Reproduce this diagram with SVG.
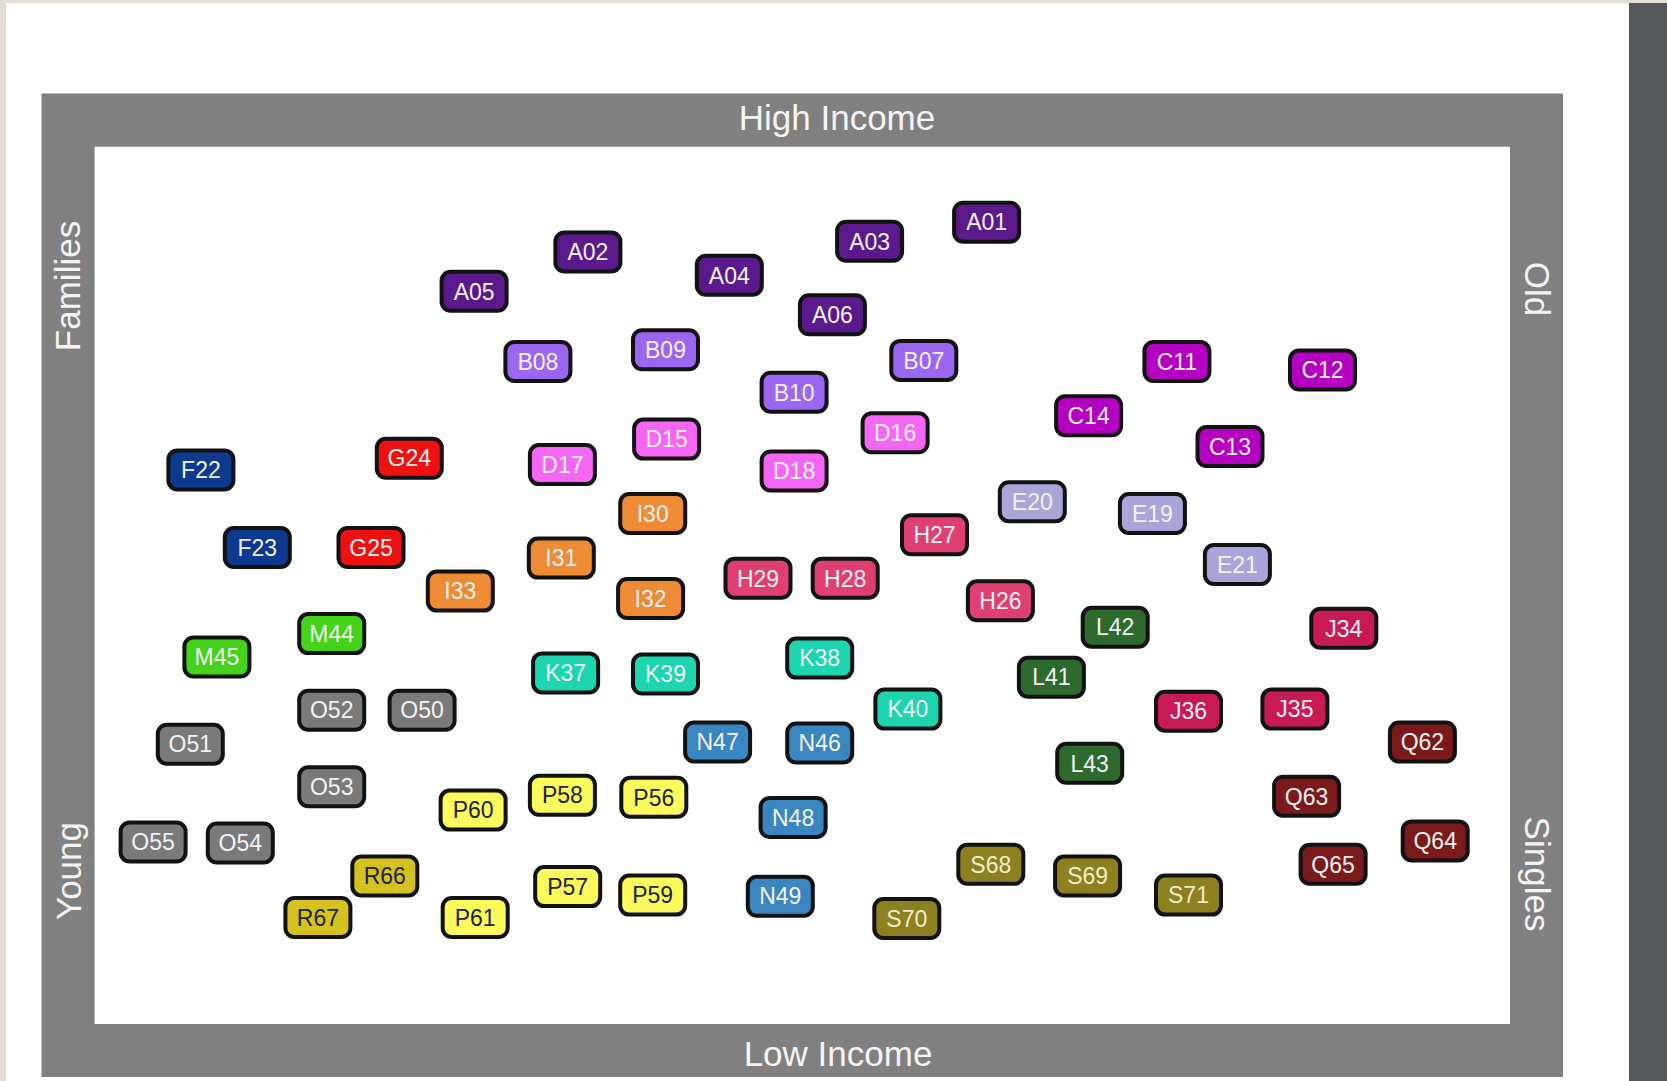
<svg xmlns="http://www.w3.org/2000/svg" width="1667" height="1081" viewBox="0 0 1667 1081">
<style>
.lbl{font-family:"Liberation Sans",Arial,sans-serif;font-size:35px;fill:#f4f4f4;text-anchor:middle}
.n text{font-family:"Liberation Sans",Arial,sans-serif;font-size:23px;fill:#f2f2f2;text-anchor:middle;stroke:none}
.a{fill:#5a1a8c}.b{fill:#9b66f0}.c{fill:#b400c0}.d{fill:#f566f5}
.e{fill:#a9a5d8}.f{fill:#0d3a8e}.g{fill:#ee1111}.h{fill:#e03f72}
.i{fill:#ee8b35}.j{fill:#c81a55}.k{fill:#1dd6b0}.l{fill:#2e6a2e}
.m{fill:#44d21a}.nn{fill:#3a86c0}.o{fill:#7a7a7a}.p{fill:#fbfb5e}
.q{fill:#7a1a1a}.r{fill:#d4c220}.s{fill:#8c8020}
.p text,.r text{fill:#222}
.s text{fill:#f3ecc8}
</style>
<defs>
<rect id="box" x="-32.5" y="-19.5" width="65" height="39" rx="9" stroke="#121212" stroke-width="4"/>
</defs>
<rect x="0" y="0" width="1667" height="1081" fill="#ffffff"/>
<rect x="0" y="0" width="1667" height="3" fill="#e4dfd6"/>
<rect x="0" y="0" width="6" height="1081" fill="#e4dfd6"/>
<rect x="1629" y="3" width="38" height="1078" fill="#54585b"/>
<g id="frame">
<rect x="41.5" y="93.5" width="1521.5" height="983.5" fill="#808080"/>
<rect x="94.6" y="146.7" width="1415.4" height="877.3" fill="#ffffff"/>
<text class="lbl" x="837" y="130">High Income</text>
<text class="lbl" x="838" y="1066">Low Income</text>
<text class="lbl" transform="translate(67,286) rotate(-90)" y="12.5">Families</text>
<text class="lbl" transform="translate(68,871) rotate(-90)" y="12.5">Young</text>
<text class="lbl" transform="translate(1537,289) rotate(90)" y="12.5">Old</text>
<text class="lbl" transform="translate(1537,874) rotate(90)" y="12.5">Singles</text>
</g>
<g id="connectors"></g>
<g id="nodes">
<g id="A01" class="n a" transform="translate(986.6,222.2)"><use href="#box"/><text y="8.2">A01</text></g>
<g id="A02" class="n a" transform="translate(587.9,252)"><use href="#box"/><text y="8.2">A02</text></g>
<g id="A03" class="n a" transform="translate(869.6,241.3)"><use href="#box"/><text y="8.2">A03</text></g>
<g id="A04" class="n a" transform="translate(729.3,275.3)"><use href="#box"/><text y="8.2">A04</text></g>
<g id="A05" class="n a" transform="translate(474.1,291.3)"><use href="#box"/><text y="8.2">A05</text></g>
<g id="A06" class="n a" transform="translate(832.4,314.7)"><use href="#box"/><text y="8.2">A06</text></g>
<g id="B07" class="n b" transform="translate(923.8,360.4)"><use href="#box"/><text y="8.2">B07</text></g>
<g id="B08" class="n b" transform="translate(537.9,361.5)"><use href="#box"/><text y="8.2">B08</text></g>
<g id="B09" class="n b" transform="translate(665.5,349.8)"><use href="#box"/><text y="8.2">B09</text></g>
<g id="B10" class="n b" transform="translate(794.1,392.3)"><use href="#box"/><text y="8.2">B10</text></g>
<g id="C11" class="n c" transform="translate(1176.9,361.5)"><use href="#box"/><text y="8.2">C11</text></g>
<g id="C12" class="n c" transform="translate(1322.5,370)"><use href="#box"/><text y="8.2">C12</text></g>
<g id="C13" class="n c" transform="translate(1230,446.5)"><use href="#box"/><text y="8.2">C13</text></g>
<g id="C14" class="n c" transform="translate(1088.6,415.7)"><use href="#box"/><text y="8.2">C14</text></g>
<g id="D15" class="n d" transform="translate(666.6,439.1)"><use href="#box"/><text y="8.2">D15</text></g>
<g id="D16" class="n d" transform="translate(895.1,432.7)"><use href="#box"/><text y="8.2">D16</text></g>
<g id="D17" class="n d" transform="translate(562.4,464.6)"><use href="#box"/><text y="8.2">D17</text></g>
<g id="D18" class="n d" transform="translate(794.1,471)"><use href="#box"/><text y="8.2">D18</text></g>
<g id="E19" class="n e" transform="translate(1152.4,513.5)"><use href="#box"/><text y="8.2">E19</text></g>
<g id="E20" class="n e" transform="translate(1032.3,501.8)"><use href="#box"/><text y="8.2">E20</text></g>
<g id="E21" class="n e" transform="translate(1237.4,564.5)"><use href="#box"/><text y="8.2">E21</text></g>
<g id="F22" class="n f" transform="translate(200.9,469.9)"><use href="#box"/><text y="8.2">F22</text></g>
<g id="F23" class="n f" transform="translate(257.3,547.5)"><use href="#box"/><text y="8.2">F23</text></g>
<g id="G24" class="n g" transform="translate(409.3,458.2)"><use href="#box"/><text y="8.2">G24</text></g>
<g id="G25" class="n g" transform="translate(371,547.5)"><use href="#box"/><text y="8.2">G25</text></g>
<g id="H26" class="n h" transform="translate(1000.4,600.7)"><use href="#box"/><text y="8.2">H26</text></g>
<g id="H27" class="n h" transform="translate(934.5,534.7)"><use href="#box"/><text y="8.2">H27</text></g>
<g id="H28" class="n h" transform="translate(845.2,578.3)"><use href="#box"/><text y="8.2">H28</text></g>
<g id="H29" class="n h" transform="translate(758,578.3)"><use href="#box"/><text y="8.2">H29</text></g>
<g id="I30" class="n i" transform="translate(652.7,513.5)"><use href="#box"/><text y="8.2">I30</text></g>
<g id="I31" class="n i" transform="translate(561.3,558.1)"><use href="#box"/><text y="8.2">I31</text></g>
<g id="I32" class="n i" transform="translate(650.6,598.5)"><use href="#box"/><text y="8.2">I32</text></g>
<g id="I33" class="n i" transform="translate(460.3,591.1)"><use href="#box"/><text y="8.2">I33</text></g>
<g id="J34" class="n j" transform="translate(1343.8,628.3)"><use href="#box"/><text y="8.2">J34</text></g>
<g id="J35" class="n j" transform="translate(1294.9,709.1)"><use href="#box"/><text y="8.2">J35</text></g>
<g id="J36" class="n j" transform="translate(1188.5,711.2)"><use href="#box"/><text y="8.2">J36</text></g>
<g id="K37" class="n k" transform="translate(565.6,672.9)"><use href="#box"/><text y="8.2">K37</text></g>
<g id="K38" class="n k" transform="translate(819.7,658.1)"><use href="#box"/><text y="8.2">K38</text></g>
<g id="K39" class="n k" transform="translate(665.5,674)"><use href="#box"/><text y="8.2">K39</text></g>
<g id="K40" class="n k" transform="translate(907.9,709.1)"><use href="#box"/><text y="8.2">K40</text></g>
<g id="L41" class="n l" transform="translate(1051.4,677.2)"><use href="#box"/><text y="8.2">L41</text></g>
<g id="L42" class="n l" transform="translate(1115.2,627.2)"><use href="#box"/><text y="8.2">L42</text></g>
<g id="L43" class="n l" transform="translate(1089.7,763.3)"><use href="#box"/><text y="8.2">L43</text></g>
<g id="M44" class="n m" transform="translate(331.7,633.6)"><use href="#box"/><text y="8.2">M44</text></g>
<g id="M45" class="n m" transform="translate(216.9,657)"><use href="#box"/><text y="8.2">M45</text></g>
<g id="N46" class="n nn" transform="translate(819.7,743.1)"><use href="#box"/><text y="8.2">N46</text></g>
<g id="N47" class="n nn" transform="translate(717.6,742)"><use href="#box"/><text y="8.2">N47</text></g>
<g id="N48" class="n nn" transform="translate(793.1,817.5)"><use href="#box"/><text y="8.2">N48</text></g>
<g id="N49" class="n nn" transform="translate(780.3,896.2)"><use href="#box"/><text y="8.2">N49</text></g>
<g id="O50" class="n o" transform="translate(422.1,710.2)"><use href="#box"/><text y="8.2">O50</text></g>
<g id="O51" class="n o" transform="translate(190.3,744.2)"><use href="#box"/><text y="8.2">O51</text></g>
<g id="O52" class="n o" transform="translate(331.7,710.2)"><use href="#box"/><text y="8.2">O52</text></g>
<g id="O53" class="n o" transform="translate(331.7,786.7)"><use href="#box"/><text y="8.2">O53</text></g>
<g id="O54" class="n o" transform="translate(240.3,843)"><use href="#box"/><text y="8.2">O54</text></g>
<g id="O55" class="n o" transform="translate(153.1,842)"><use href="#box"/><text y="8.2">O55</text></g>
<g id="P56" class="n p" transform="translate(653.8,797.3)"><use href="#box"/><text y="8.2">P56</text></g>
<g id="P57" class="n p" transform="translate(567.7,886.6)"><use href="#box"/><text y="8.2">P57</text></g>
<g id="P58" class="n p" transform="translate(562.4,795.2)"><use href="#box"/><text y="8.2">P58</text></g>
<g id="P59" class="n p" transform="translate(652.7,895.1)"><use href="#box"/><text y="8.2">P59</text></g>
<g id="P60" class="n p" transform="translate(473.1,810.1)"><use href="#box"/><text y="8.2">P60</text></g>
<g id="P61" class="n p" transform="translate(475.2,917.5)"><use href="#box"/><text y="8.2">P61</text></g>
<g id="Q62" class="n q" transform="translate(1422.4,742)"><use href="#box"/><text y="8.2">Q62</text></g>
<g id="Q63" class="n q" transform="translate(1306.6,796.3)"><use href="#box"/><text y="8.2">Q63</text></g>
<g id="Q64" class="n q" transform="translate(1435.2,840.9)"><use href="#box"/><text y="8.2">Q64</text></g>
<g id="Q65" class="n q" transform="translate(1333.1,864.3)"><use href="#box"/><text y="8.2">Q65</text></g>
<g id="R66" class="n r" transform="translate(384.8,876)"><use href="#box"/><text y="8.2">R66</text></g>
<g id="R67" class="n r" transform="translate(317.9,917.5)"><use href="#box"/><text y="8.2">R67</text></g>
<g id="S68" class="n s" transform="translate(990.8,864.3)"><use href="#box"/><text y="8.2">S68</text></g>
<g id="S69" class="n s" transform="translate(1087.6,876)"><use href="#box"/><text y="8.2">S69</text></g>
<g id="S70" class="n s" transform="translate(906.8,918.5)"><use href="#box"/><text y="8.2">S70</text></g>
<g id="S71" class="n s" transform="translate(1188.5,895.1)"><use href="#box"/><text y="8.2">S71</text></g>
</g>
</svg>
